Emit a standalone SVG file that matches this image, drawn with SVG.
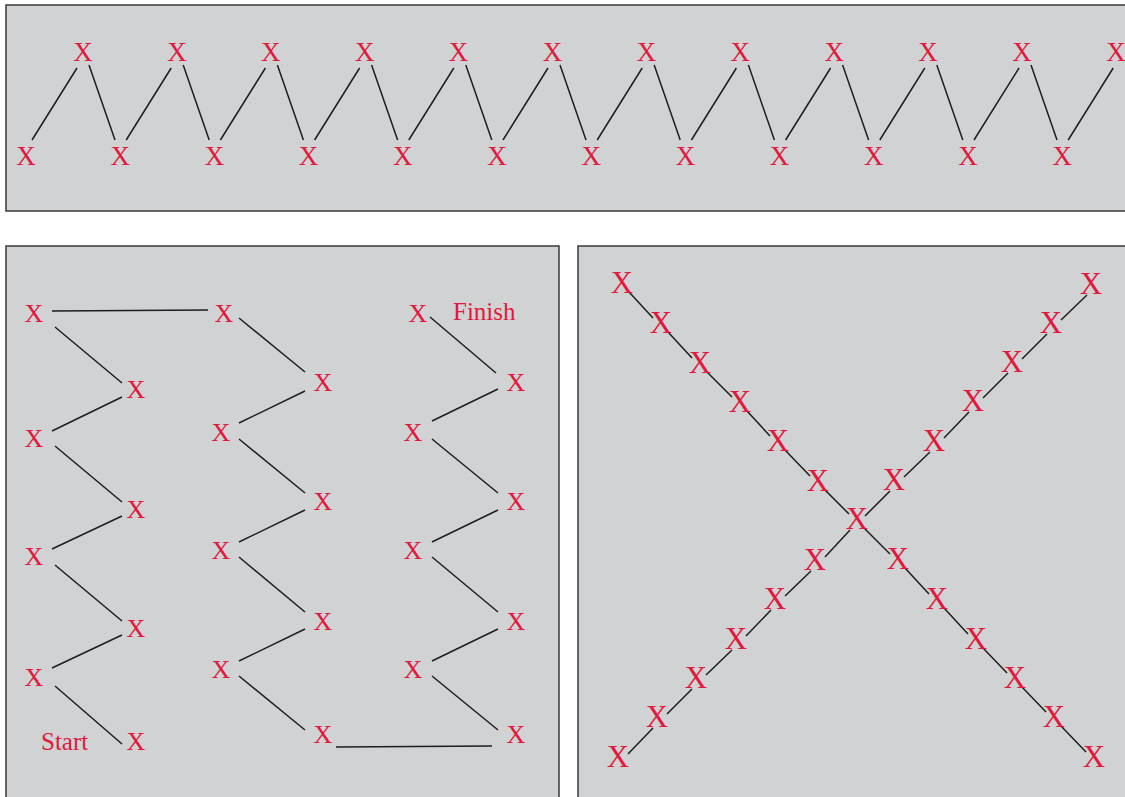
<svg xmlns="http://www.w3.org/2000/svg" width="1125" height="797" viewBox="0 0 1125 797">
<style>
.panel{fill:#d1d2d4;stroke:#3a3a3a;stroke-width:1.5}
.ln{stroke:#1e1e1e;stroke-width:1.5;fill:none}
text{font-family:"Liberation Serif","Times New Roman",serif;fill:#e2183c;text-anchor:middle}
.t{font-size:27px}
.l{font-size:26px}
.r{font-size:31px}
.lab{font-size:25px;text-anchor:start}
</style>
<rect width="1125" height="797" fill="#ffffff"/>
<g id="panels">
<rect class="panel" x="6" y="5" width="1130" height="206"/>
<rect class="panel" x="6" y="246" width="553" height="560"/>
<rect class="panel" x="578" y="246" width="560" height="560"/>
</g>
<g id="connectors">
<path class="ln" d="M32,140L77,68M126.2,140L171.2,68M220.4,140L265.4,68M314.6,140L359.6,68M408.8,140L453.8,68M503,140L548,68M597.2,140L642.2,68M691.4,140L736.4,68M785.6,140L830.6,68M879.8,140L924.8,68M974,140L1019,68M1068.2,140L1113.2,68"/>
<path class="ln" d="M89,65L115,140M183.2,65L209.2,140M277.4,65L303.4,140M371.6,65L397.6,140M465.8,65L491.8,140M560,65L586,140M654.2,65L680.2,140M748.4,65L774.4,140M842.6,65L868.6,140M936.8,65L962.8,140M1031,65L1057,140"/>
<path class="ln" d="M52,311L208,310M55,327L122,383M122,397L52,431M55,446L122,502M122,516L52,549M55,565L122,621M122,635L52,668M55,686L122,744"/>
<path class="ln" d="M239,318L305,372M305,391L239,423M239,439L305,493M305,510L239,542M239,557L305,612M305,629L239,661M239,676L305,730M336,747L492,746"/>
<path class="ln" d="M430,317L496,373M498,389L432,421M432,439L498,493M498,510L432,542M432,557L498,612M498,629L432,661M432,676L498,730"/>
<path class="ln" d="M629,292L653,318M668,332L692,358M707,372L732,397M747,411L770,436M785,450L810,476M825,490L849,514M864,528L890,554M905,568L929,594M944,608L968,634M983,648L1007,673M1022,687L1046,712M1061,726L1086,752"/>
<path class="ln" d="M628,754L653,728M667,714L692,689M706,675L732,650M746,636L771,610M785,596L811,571M825,557L850,530M865,516L890,491M904,477L930,452M944,438L969,412M983,398L1008,373M1022,359L1047,334M1061,320L1087,295"/>
</g>
<g id="top-row">
<text class="t" x="83" y="61">X</text>
<text class="t" x="176.9" y="61">X</text>
<text class="t" x="270.8" y="61">X</text>
<text class="t" x="364.7" y="61">X</text>
<text class="t" x="458.6" y="61">X</text>
<text class="t" x="552.5" y="61">X</text>
<text class="t" x="646.4" y="61">X</text>
<text class="t" x="740.3" y="61">X</text>
<text class="t" x="834.2" y="61">X</text>
<text class="t" x="928.1" y="61">X</text>
<text class="t" x="1022" y="61">X</text>
<text class="t" x="1115.9" y="61">X</text>
<text class="t" x="26" y="165">X</text>
<text class="t" x="120.2" y="165">X</text>
<text class="t" x="214.4" y="165">X</text>
<text class="t" x="308.6" y="165">X</text>
<text class="t" x="402.8" y="165">X</text>
<text class="t" x="497" y="165">X</text>
<text class="t" x="591.2" y="165">X</text>
<text class="t" x="685.4" y="165">X</text>
<text class="t" x="779.6" y="165">X</text>
<text class="t" x="873.8" y="165">X</text>
<text class="t" x="968" y="165">X</text>
<text class="t" x="1062.2" y="165">X</text>
</g>
<g id="zigzag-path">
<text class="l" x="34" y="321.5">X</text>
<text class="l" x="34" y="446.5">X</text>
<text class="l" x="34" y="564.5">X</text>
<text class="l" x="34" y="685.5">X</text>
<text class="l" x="136" y="397.5">X</text>
<text class="l" x="136" y="517.5">X</text>
<text class="l" x="136" y="636.5">X</text>
<text class="l" x="136" y="749.5">X</text>
<text class="l" x="224" y="321.5">X</text>
<text class="l" x="221" y="440.5">X</text>
<text class="l" x="221" y="558.5">X</text>
<text class="l" x="221" y="677.5">X</text>
<text class="l" x="323" y="390.5">X</text>
<text class="l" x="323" y="509.5">X</text>
<text class="l" x="323" y="629.5">X</text>
<text class="l" x="323" y="742.5">X</text>
<text class="l" x="418" y="321.5">X</text>
<text class="l" x="413" y="440.5">X</text>
<text class="l" x="413" y="558.5">X</text>
<text class="l" x="413" y="677.5">X</text>
<text class="l" x="516" y="390.5">X</text>
<text class="l" x="516" y="509.5">X</text>
<text class="l" x="516" y="629.5">X</text>
<text class="l" x="516" y="742.5">X</text>
<text class="lab" x="41" y="750">Start</text>
<text class="lab" x="453" y="320">Finish</text>
</g>
<g id="cross">
<text class="r" x="622" y="292.5">X</text>
<text class="r" x="661" y="332.5">X</text>
<text class="r" x="700" y="372.5">X</text>
<text class="r" x="740" y="411.5">X</text>
<text class="r" x="778" y="450.5">X</text>
<text class="r" x="818" y="490.5">X</text>
<text class="r" x="857" y="528.5">X</text>
<text class="r" x="898" y="568.5">X</text>
<text class="r" x="937" y="608.5">X</text>
<text class="r" x="976" y="648.5">X</text>
<text class="r" x="1015" y="687.5">X</text>
<text class="r" x="1054" y="726.5">X</text>
<text class="r" x="1094" y="766.5">X</text>
<text class="r" x="618" y="766.5">X</text>
<text class="r" x="657" y="726.5">X</text>
<text class="r" x="696" y="687.5">X</text>
<text class="r" x="736" y="648.5">X</text>
<text class="r" x="775" y="608.5">X</text>
<text class="r" x="815" y="569.5">X</text>
<text class="r" x="894" y="489.5">X</text>
<text class="r" x="934" y="450.5">X</text>
<text class="r" x="973" y="410.5">X</text>
<text class="r" x="1012" y="371.5">X</text>
<text class="r" x="1051" y="332.5">X</text>
<text class="r" x="1091" y="293.5">X</text>
</g>
</svg>
